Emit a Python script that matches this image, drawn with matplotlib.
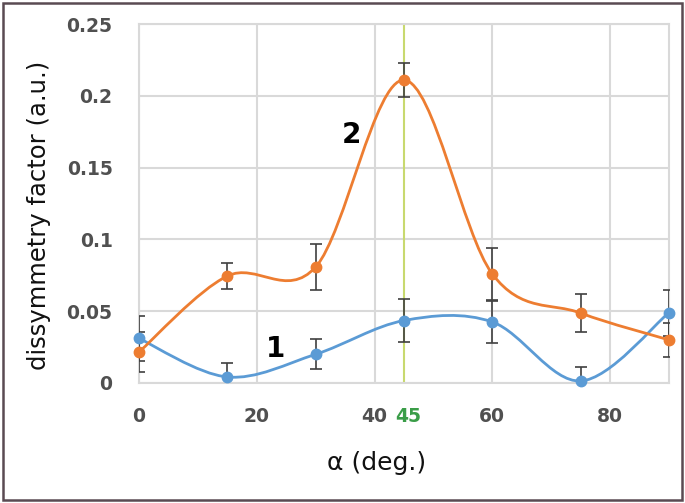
import matplotlib
matplotlib.use("Agg")
import matplotlib.pyplot as plt
from matplotlib.path import Path
from matplotlib.patches import PathPatch, Rectangle
import numpy as np

# data
angle = [0, 15, 30, 45, 60, 75, 90]
series1 = [0.031, 0.0042, 0.020, 0.0435, 0.0425, 0.0014, 0.049]
series1_err = [0.016, 0.010, 0.0105, 0.015, 0.0145, 0.010, 0.016]
series2 = [0.0216, 0.0745, 0.0808, 0.211, 0.0759, 0.0487, 0.030]
series2_err = [0.014, 0.009, 0.016, 0.012, 0.018, 0.013, 0.012]

x_ticks = [0, 20, 40, 60, 80]
y_ticks = [0, 0.05, 0.1, 0.15, 0.2, 0.25]
y_tick_labels = ["0", "0.05", "0.1", "0.15", "0.2", "0.25"]
marked_angle = 45

BLUE = "#5b9bd5"
ORANGE = "#ed7d31"
GRID = "#d9d9d9"
TICK = "#505050"


def smooth_path(xs, ys):
    # Excel-like smoothed line: cubic bezier segments (Catmull-Rom style)
    pts = np.column_stack([xs, ys]).astype(float)
    n = len(pts)
    verts = [pts[0]]
    codes = [Path.MOVETO]
    for i in range(n - 1):
        p0 = pts[i - 1] if i > 0 else pts[i]
        p1 = pts[i]
        p2 = pts[i + 1]
        p3 = pts[i + 2] if i + 2 < n else pts[i + 1]
        c1 = p1 + (p2 - p0) / 6
        c2 = p2 - (p3 - p1) / 6
        verts += [c1, c2, p2]
        codes += [Path.CURVE4] * 3
    return Path(verts, codes)


fig = plt.figure(figsize=(6.85, 5.03), dpi=100)
ax = fig.add_axes([139 / 685, 1 - 383 / 503, 530 / 685, 359 / 503])

ax.set_xlim(0, 90)
ax.set_ylim(0, 0.25)
ax.set_xticks(x_ticks)
ax.set_yticks(y_ticks)
ax.set_yticklabels(y_tick_labels)
ax.grid(True, color=GRID, lw=1.5)
ax.set_axisbelow(True)
for s in ax.spines.values():
    s.set_color(GRID)
    s.set_linewidth(1.5)
ax.tick_params(length=0, colors=TICK, labelsize=13.5)
ax.tick_params(axis="y", pad=19)
ax.tick_params(axis="x", pad=17)
for lab in ax.get_xticklabels() + ax.get_yticklabels():
    lab.set_fontweight("bold")

ax.axvline(marked_angle, color="#c8d96f", lw=1.5, zorder=1.5)

for ys, err, col in [(series1, series1_err, BLUE), (series2, series2_err, ORANGE)]:
    ax.add_patch(PathPatch(smooth_path(angle, ys), fill=False, edgecolor=col,
                           lw=2.0, zorder=3))
    ax.errorbar(angle, ys, yerr=err, fmt="none", ecolor="#404040",
                elinewidth=1.2, capsize=4, capthick=1.2, zorder=4)
    ax.plot(angle, ys, "o", color=col, ms=7.5, zorder=5, clip_on=False)

ax.text(23.1, 0.0237, "1", fontsize=20, fontweight="bold", ha="center",
        va="center", zorder=6)
ax.text(36.0, 0.173, "2", fontsize=20, fontweight="bold", ha="center",
        va="center", zorder=6)

fig.text(408 / 685, 1 - 416 / 503, str(marked_angle), color="#3a9d48",
         fontsize=13.5, fontweight="bold", ha="center", va="center")

fig.text(39 / 685, 1 - 215 / 503, "dissymmetry factor (a.u.)", rotation=90,
         fontsize=17.5, ha="center", va="center", color="#111111")
fig.text(377 / 685, 1 - 463 / 503, "α (deg.)", fontsize=18,
         ha="center", va="center", color="#111111")

fig.patches.append(Rectangle((3 / 685, 3 / 503), 679 / 685, 497 / 503,
                             transform=fig.transFigure, fill=False,
                             edgecolor="#5a4a52", lw=1.8))

fig.savefig("out.png", dpi=100)
